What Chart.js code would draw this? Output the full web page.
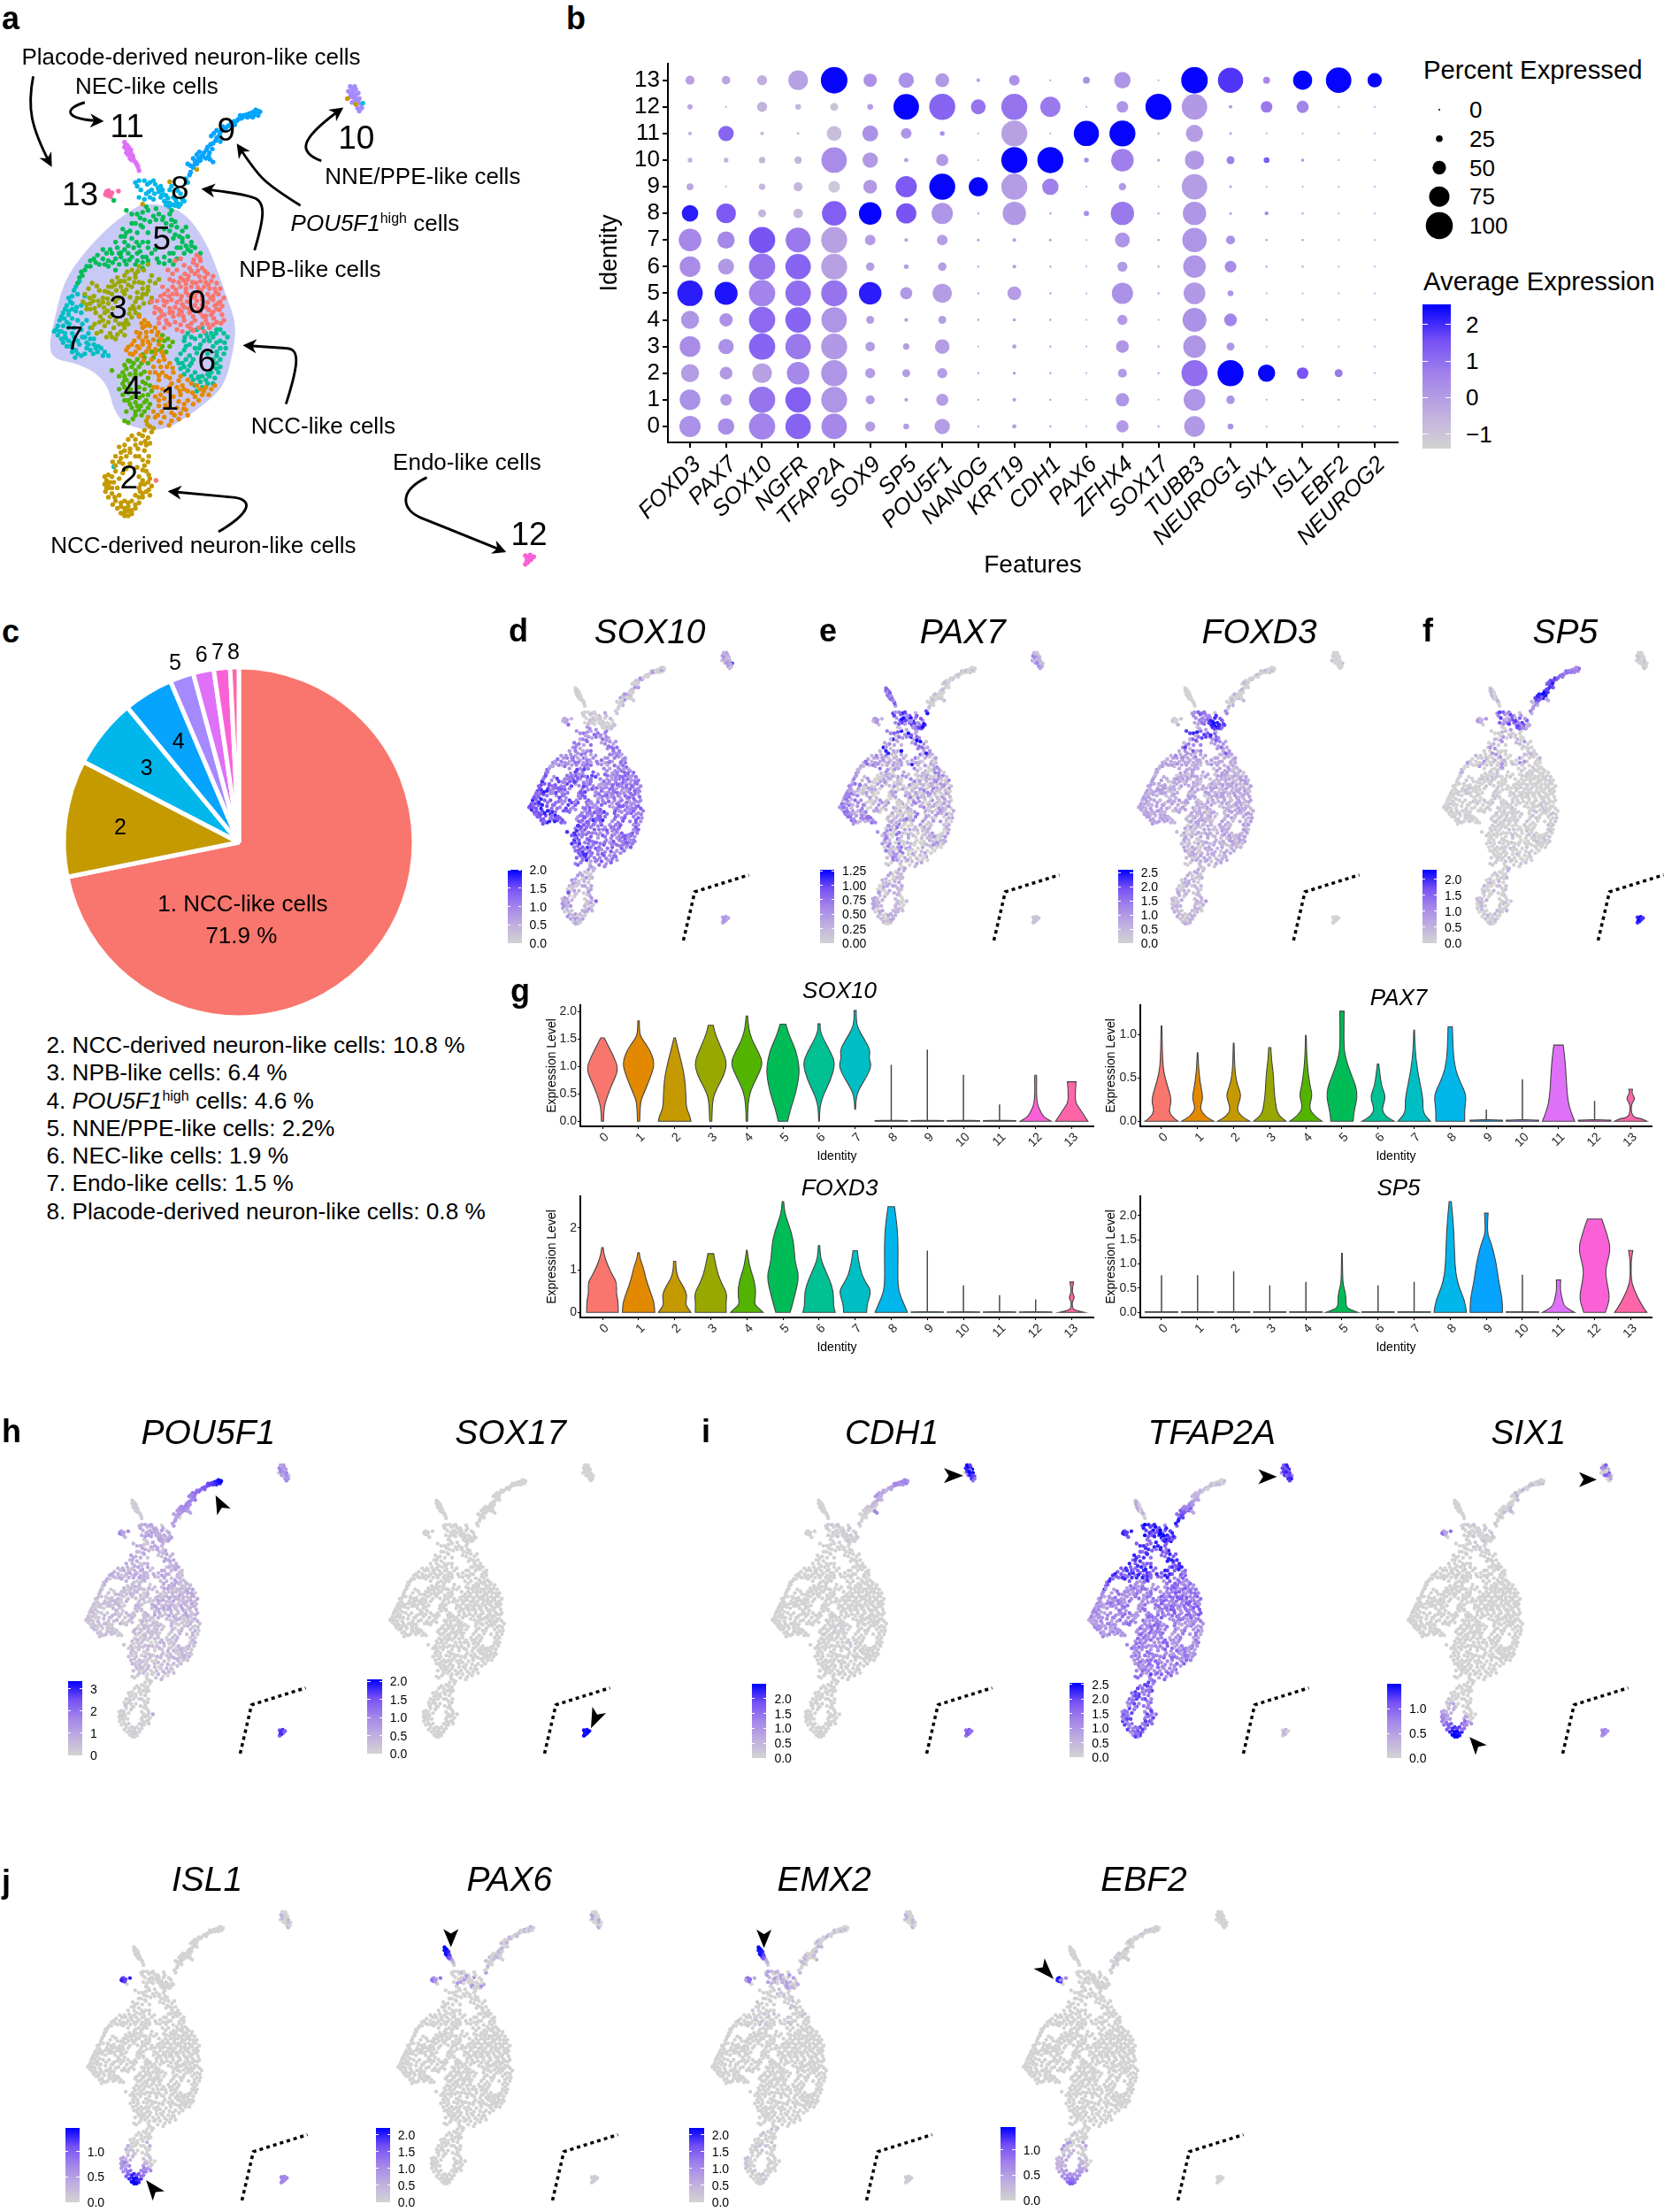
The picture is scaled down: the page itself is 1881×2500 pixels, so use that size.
<!doctype html>
<html><head><meta charset="utf-8">
<script src="https://cdn.jsdelivr.net/npm/chart.js@4"></script>
<style>
body{margin:0;background:#fff}
#page{position:relative;width:1881px;height:2500px;overflow:hidden;font-family:"Liberation Sans",Arial,sans-serif;color:#000}
.t{position:absolute;white-space:nowrap;line-height:1;transform:translateY(-50%)}
.c{transform:translate(-50%,-50%)}
canvas{position:absolute}
svg{position:absolute;left:0;top:0;pointer-events:none}
</style></head><body><div id="page"></div>
<script>
// ---------- data ----------
const clusterColors=['#F8766D','#E38900','#C49A00','#99A800','#53B400','#00BC56','#00C094','#00BFC4','#00B6EB','#06A4FF','#A58AFF','#DF70F8','#FB61D7','#FF66A8'];
const geneNames=['FOXD3','PAX7','SOX10','NGFR','TFAP2A','SOX9','SP5','POU5F1','NANOG','KRT19','CDH1','PAX6','ZFHX4','SOX17','TUBB3','NEUROG1','SIX1','ISL1','EBF2','NEUROG2'];
const identityLabels=['0','1','2','3','4','5','6','7','8','9','10','11','12','13'];
// percent expressed: one row per gene, identities 0..13
const pctExpressed=[
[80,78,68,78,68,96,78,85,62,26,18,14,20,34],
[62,44,48,58,50,87,60,65,74,8,18,58,8,32],
[99,99,74,99,99,99,99,99,30,24,24,14,38,38],
[96,96,85,96,96,96,96,94,36,34,28,10,22,74],
[96,98,98,98,96,98,98,98,92,44,96,56,30,100],
[38,34,38,36,30,85,32,40,85,52,58,60,22,50],
[22,14,30,24,14,46,18,14,76,80,16,40,96,58],
[58,46,38,55,30,72,32,40,80,98,46,18,98,52],
[8,8,8,6,8,8,8,10,8,72,6,5,56,14],
[16,14,12,16,12,52,14,14,88,98,98,98,98,40],
[8,8,8,8,8,8,8,10,8,62,98,5,76,6],
[5,5,6,6,5,5,5,6,20,6,18,95,3,26],
[46,50,34,48,38,80,38,56,88,28,85,98,44,62],
[8,6,8,8,6,8,8,8,8,6,10,8,98,6],
[78,82,98,85,90,82,85,92,88,96,72,65,96,100],
[22,32,98,30,48,22,44,34,10,10,30,10,14,95],
[6,6,65,6,8,6,8,8,14,6,22,6,44,26],
[6,8,44,6,8,6,8,8,8,6,12,6,46,72],
[5,8,30,6,5,6,6,6,6,5,6,5,6,96],
[6,6,6,6,6,6,6,6,6,6,6,6,6,54]];
// average expression (scaled): one row per gene, identities 0..13
const avgExpression=[
[.3,.3,0,.4,.2,2.2,.4,.5,2.2,-.2,-.5,-.4,-.2,-.1],
[.4,.1,.1,.3,.3,2.3,.1,.5,1.4,-1,-.6,1.2,-.8,-.2],
[.6,.9,-.1,1.2,1.1,.6,.9,1.5,-.6,-.6,-.6,-.7,-.5,-.4],
[1.2,1.3,.5,.8,1.2,1,1.2,.8,-.7,-.6,-.6,-.8,-.6,-.1],
[.5,.2,.2,.1,.2,.9,-.1,-.1,1.3,-1.1,.4,-.8,-1,2.5],
[0,0,0,0,0,2.2,0,0,2.5,.1,.1,.3,0,.3],
[0,0,0,0,0,.1,0,0,1.5,1.4,0,.2,2.5,.3],
[0,0,0,0,0,0,0,0,.2,2.5,.1,.4,1.2,.1],
[-.1,-.1,-.1,-.1,-.1,-.1,-.1,-.1,-.1,2.5,-.1,-.1,.9,-.1],
[0,0,0,0,0,0,0,0,.1,0,2.5,-.1,.9,.3],
[0,0,0,0,0,0,0,0,0,.7,2.5,0,.8,0],
[0,0,0,0,0,0,0,0,.4,0,.4,2.5,0,.3],
[.1,.2,.1,.2,.1,.3,.1,.2,.8,.1,.7,2.5,.2,.2],
[0,0,0,0,0,0,0,0,0,0,0,0,2.5,0],
[.1,.2,1,.2,.3,.1,.2,.2,.2,0,.1,0,.1,2.5],
[.3,.2,2.5,.2,.6,.2,.4,.3,0,0,.7,0,0,1.9],
[0,0,2.5,0,0,0,0,0,.6,0,1.4,0,.8,.5],
[0,0,1.5,0,0,0,0,0,0,0,.2,0,.6,2.5],
[0,0,.8,0,0,0,0,0,0,0,0,0,0,2.5],
[0,0,0,0,0,0,0,0,0,0,0,0,0,2.5]];
const percentLegend=[0,25,50,75,100];
const pieLabels=['NCC-like cells','NCC-derived neuron-like cells','NPB-like cells','POU5F1-high cells','NNE/PPE-like cells','NEC-like cells','Endo-like cells','Placode-derived neuron-like cells'];
const pieValues=[71.9,10.8,6.4,4.6,2.2,1.9,1.5,0.8];
const pieColors=['#F8766D','#C49A00','#00B6EB','#06A4FF','#A58AFF','#DF70F8','#FB61D7','#FF66A8'];

// UMAP cells per cluster, flat x,y lists
const umap0=[545,685,555,700,535,705,525,720,560,720,575,735,540,735,500,745,520,750,555,755,585,755,480,755,500,770,530,770,565,770,595,775,465,780,490,790,515,785,545,785,575,790,605,790,445,795,475,805,500,805,530,800,560,805,590,805,610,810,455,820,485,825,510,825,540,820,570,825,600,830,430,825,470,840,495,845,525,840,555,840,585,845,615,845,440,855,460,860,485,865,510,860,540,860,570,860,600,865,455,880,490,885,520,875,550,880,580,880,470,750,440,830,485,700,500,695,465,725,432,1290,
553,692,545,712,568,728,530,728,552,742,512,735,590,742,495,758,515,762,543,760,570,758,600,760,478,770,515,775,548,772,580,775,610,775,455,790,478,790,503,795,532,790,560,795,590,795,620,800,435,808,462,810,490,812,518,810,545,808,575,812,603,815,445,835,470,828,497,832,522,828,550,830,578,832,608,832,428,840,455,845,480,850,508,850,535,850,562,850,592,855,620,860,470,872,500,872,530,868,560,870,590,872,440,868,505,890,535,888,565,890,478,735,510,712,490,725,450,770,595,820,420,810,
537,697,548,727,522,741,567,745,508,752,533,758,577,765,487,778,522,793,557,780,598,785,468,795,540,797,583,800,453,807,505,818,560,818,615,822,478,838,532,833,590,838,447,848,503,838,570,848,612,868,528,882,575,870,463,868];
const umap1=[385,850,400,860,415,875,395,880,420,890,435,900,405,905,385,905,365,925,395,925,415,925,440,925,350,940,375,945,405,945,430,950,455,965,470,975,445,985,430,1000,480,1000,460,1010,440,1020,500,1010,475,1030,450,1045,430,1065,455,1070,480,1065,510,1045,530,1030,540,1065,560,1060,585,1045,595,1035,440,1090,465,1095,490,1095,515,1100,535,1085,430,1120,455,1120,475,1130,500,1110,545,1035,415,1000,500,1060,520,1075,
392,868,410,868,378,892,405,892,430,880,445,910,372,915,395,915,425,912,355,932,385,935,412,935,448,945,360,950,390,955,420,965,440,970,462,985,425,985,450,1000,470,1015,495,1022,435,1040,465,1050,490,1040,520,1050,555,1045,570,1040,578,1060,520,1020,445,1060,470,1080,440,1075,495,1078,510,1085,550,1075,448,1105,475,1108,495,1125,520,1115,445,1135,468,1142,425,1105,425,1040,
402,875,388,895,438,892,410,918,380,930,430,938,368,952,398,968,452,955,478,988,440,1008,468,1040,498,1050,533,1055,458,1088,483,1115,508,1098,565,1050,437,1115,505,1035];
const umap2=[405,1130,415,1145,400,1155,420,1160,410,1175,385,1165,365,1170,390,1190,415,1190,375,1195,400,1210,345,1195,335,1215,320,1225,350,1225,395,1235,410,1240,340,1245,360,1245,380,1255,320,1265,405,1265,300,1275,330,1285,385,1280,415,1285,295,1290,315,1295,400,1300,420,1305,300,1310,385,1310,405,1320,310,1325,330,1330,395,1335,320,1345,345,1345,365,1345,385,1350,335,1360,355,1360,375,1365,345,1375,365,1380,355,1385,300,1300,325,1310,375,1330,330,1240,360,1215,470,488,395,548,545,455,962,265,985,280,
410,1120,408,1140,425,1150,395,1170,402,1185,375,1180,355,1180,382,1205,405,1195,360,1205,412,1225,330,1200,345,1210,312,1240,335,1230,385,1225,400,1250,320,1250,350,1258,395,1262,310,1280,412,1275,290,1280,340,1270,395,1290,410,1295,290,1300,310,1310,390,1300,412,1315,292,1320,395,1325,415,1330,300,1335,318,1335,385,1335,312,1355,335,1350,355,1350,375,1355,325,1365,345,1365,365,1370,335,1378,355,1372,345,1385,295,1310,305,1295,388,1320,345,1260,375,1225];
const umap3=[385,715,410,710,365,725,345,740,325,745,310,755,345,755,375,745,395,760,365,770,410,770,335,770,300,770,275,780,255,760,235,790,260,795,285,800,310,790,345,790,380,785,405,790,420,800,230,810,250,815,275,820,300,815,375,810,385,825,265,840,290,840,375,840,350,860,330,870,300,865,275,865,255,880,280,890,305,895,335,890,320,910,345,880,240,830,430,760,440,750,360,830,
398,725,375,735,352,730,335,755,318,765,355,765,385,758,415,755,395,775,350,778,322,780,290,782,268,768,245,775,248,800,272,808,298,802,328,800,360,798,392,800,415,812,240,818,262,828,288,826,312,828,368,822,398,815,278,850,305,850,365,852,385,845,340,870,315,880,290,875,268,895,295,905,325,898,355,870,345,900,410,780,420,740,310,770,
382,728,358,748,328,758,372,758,300,785,340,782,395,790,258,808,285,812,320,810,380,800,250,830,298,835,372,830,285,860,320,860,345,868,262,870,310,905,358,842];
const umap4=[450,900,465,910,440,915,470,930,450,930,460,945,425,960,400,960,380,965,360,970,345,980,365,985,385,985,340,1000,360,1005,390,1005,410,1015,350,1020,415,1035,400,1045,345,1040,330,1045,340,1060,410,1060,355,1075,375,1080,400,1080,415,1085,365,1095,385,1100,400,1105,375,1115,355,1135,310,995,
455,915,478,918,445,940,420,945,410,975,392,975,370,975,350,990,375,995,400,998,330,1010,345,1010,372,1015,395,1025,360,1030,340,1030,385,1040,355,1055,375,1060,395,1062,420,1050,345,1075,365,1068,390,1090,410,1095,375,1105,350,1105,392,1115,345,1130,
432,940,395,952,355,968,375,1005,345,1020,403,1030,362,1045,385,1068,405,1075,360,1085,380,1090,368,1125];
const umap5=[350,565,380,575,410,565,425,580,470,575,400,590,375,600,485,595,460,600,350,625,335,635,395,610,505,620,520,635,470,620,320,650,345,650,365,640,505,650,480,640,285,670,310,680,345,670,370,665,395,650,530,660,490,665,540,665,270,685,250,700,300,700,335,690,365,690,395,690,420,680,470,680,510,680,240,715,225,730,350,710,380,700,490,695,410,700,215,760,440,705,330,710,275,710,470,700,315,538,
365,575,395,570,440,575,415,595,390,605,475,590,450,590,360,620,380,625,410,625,490,610,515,610,530,650,455,615,485,630,325,665,355,660,385,660,410,665,520,670,500,665,295,680,330,680,355,680,380,680,555,680,260,695,285,695,320,695,345,700,375,710,405,690,435,695,250,715,300,715,320,725,235,725,220,745,480,710,455,690,395,720,430,670,340,615,365,600,505,640,
405,555,432,560,475,565,388,585,432,590,452,583,475,605,345,635,378,650,497,635,515,660,305,670,335,678,388,675,410,650,480,680,312,705,358,698,265,705,395,705,455,708,528,675,228,740,290,710];
const umap6=[520,895,545,885,570,895,600,885,620,895,540,910,565,915,590,905,610,915,630,905,515,930,540,935,590,930,610,935,500,950,525,955,600,955,610,965,505,975,530,975,590,985,520,995,540,1000,500,990,560,1010,580,1010,595,1015,535,1020,555,1025,575,1030,545,1050,
530,885,560,880,585,895,610,885,530,905,555,902,580,915,600,920,622,920,510,915,525,925,555,925,600,945,620,950,510,940,545,948,590,965,515,965,600,975,490,965,510,985,585,1000,530,1010,605,1000,550,1012,570,1020,590,1030,560,1040,540,1035,495,975,
512,905,575,905,598,895,552,935,625,935,575,950,535,965,600,990,525,982,548,1015,510,1005,575,1005,610,985];
const umap7=[220,755,205,780,190,800,235,795,185,820,200,815,175,840,190,845,210,835,165,860,185,865,215,860,240,860,155,885,170,890,190,880,225,885,160,900,180,905,235,905,205,905,250,910,175,920,195,930,220,925,260,925,240,935,280,935,270,945,225,955,300,955,200,945,315,1253,1005,277,
210,770,215,790,195,810,225,820,180,830,200,830,170,850,200,855,225,840,160,875,175,875,205,880,250,880,165,890,180,895,200,895,245,895,170,910,190,915,215,915,260,910,185,930,210,940,240,920,250,940,265,935,290,945,235,950,215,950,285,955,
200,795,212,825,190,835,178,855,150,890,192,870,228,870,182,908,200,920,228,905,245,925,272,930,208,960,258,950];
const umap8=[375,490,400,485,415,490,430,495,445,500,380,500,470,510,420,510,440,515,405,520,415,530,385,530,460,525,480,530,510,540,455,540,470,545,490,545,460,550,495,555,445,530,500,520,520,490,
385,485,408,495,425,485,438,505,450,510,390,510,475,500,428,520,448,525,412,515,425,535,400,535,465,532,487,538,505,535,462,545,478,550,485,552,468,555,500,548,452,522,492,512,515,480];
const umap9=[525,470,520,440,535,450,545,440,535,425,550,425,555,430,570,425,545,415,565,410,580,410,590,435,575,395,590,385,610,380,600,370,585,365,610,355,600,350,625,345,640,330,655,325,660,320,665,310,675,310,685,315,690,305,700,315,705,300,715,298,715,310,
528,462,528,445,540,440,552,432,540,432,558,420,562,420,578,418,552,408,572,402,588,400,582,428,583,388,597,378,605,368,608,362,592,358,615,348,618,340,632,338,648,326,650,335,668,318,672,315,682,308,692,312,698,302,705,308,710,304,720,300,708,295];
const umap10=[970,232,985,240,965,245,978,250,992,250,970,260,985,265,975,275,995,265,1000,280,990,290,995,298,975,238,982,232,972,252,985,255,980,262,992,275,982,275,1002,290];
const umap11=[345,382,352,390,345,395,358,400,350,410,362,410,368,420,360,425,375,435,380,443,385,458,348,388,356,395,350,400,362,402,354,415,366,416,370,428,365,430,377,438,382,448];
const umap12=[966,1358,979,1356,989,1361,971,1366,981,1369,973,1376,966,1381,975,1362,984,1364,970,1372];
const umap13=[295,515,303,520,310,518,298,525,306,528,328,513,300,512,292,522,305,522];
const umapClusters=[umap0,umap1,umap2,umap3,umap4,umap5,umap6,umap7,umap8,umap9,umap10,umap11,umap12,umap13];
const blobOutline=[400,545,480,555,530,590,575,660,600,720,625,790,655,870,645,950,620,1040,560,1090,480,1145,420,1158,345,1140,315,1100,300,1040,265,1000,210,975,150,965,135,930,150,860,175,760,230,680,310,600,370,560];
const panelAShift12=[489,134];
const separatorL=[800,1457,848,1250,1076,1178];

// expression per cell, as fraction of each gene's colour bar, listed per cluster
const SIX1_c2=[0,0,0,0,0,0,0,0,0,0,0,0,0,.1,0,0,0,.3,0,0,.2,0,.3,.2,0,0,.45,.3,.3,0,.55,.3,.4,.6,.7,.5,.7,.85,.8,.6,.9,1,.9,1,.95,1,.5,.4,.6,.2,0,0,0,0,0,0];
const ISL1_c2=[0,0,0,0,0,0,0,0,0,0,.2,0,0,.25,0,0,0,.1,0,0,.2,.1,.3,.2,.1,0,.35,.3,.2,.1,.4,.4,.5,.45,.6,.55,.7,.9,.75,.6,.85,1,.85,1,.9,1,.4,.5,.5,.1,0,0,0,0,0,0];
const EBF2_c2=[0,0,0,0,0,0,.1,0,0,0,.3,0,.35,.4,0,.1,0,.1,.2,0,.2,.1,.15,.3,.2,.1,.2,.25,.2,.1,.2,.3,.35,.3,.35,.4,.4,.45,.4,.45,.5,.55,.5,.6,.6,.7,.2,.2,.3,.1,0,0,0,0,0,0];
const PAX6_c11=[1,1,.95,.9,.95,.8,.6,.7,.3,.2,0];
const POU5F1_c9=[.35,.3,.35,.4,.35,.4,.45,.4,.45,.5,.45,.3,.5,.5,.55,.55,.5,.6,.6,.65,.7,.7,.75,.8,.8,.85,.9,.9,.95,1,.95];
const SP5_c9=[.4,.2,.5,.7,.8,.9,.7,.95,.9,1,.85,.3,.8,.85,.75,.9,.7,.75,.8,.65,.6,.55,.5,.6,.5,.55,.45,.5,.5,.6,.45];
const TFAP2A_c9=[.9,.6,.8,.7,.7,.6,.5,.7,.5,.5,.4,.3,.4,.3,.3,.2,.2,.2,.2,.1,.1,0,.15,.1,0,.2,0,.1,0,.15,0];
const CDH1_c9=[0,0,0,0,.05,.1,0,0,.1,.2,.1,.5,.2,.3,.2,.25,.4,.3,.3,.2,.3,.3,.4,.5,.45,.4,.5,.45,.55,.4,.5];
const FOXD3_c8=[.4,.7,.6,.5,.5,.45,.85,.5,.7,.5,.6,.3,.95,.9,.8,.9,1,.85,.8,.6,.9,.7,.5];
const FOXD3_c5=[.8,.9,.7,.8,.7,.6,.7,.5,.45,.5,.5,.3,.4,.3,.35,.25,.4,.2,.3,.35,.2,.35,.25,.3,.2,.35,.15,.3,.25,.3,.2,.3,.25,.35,.15,.3,.25,.2,.3,.35,.25,.3,.2,.3,.25,.3,.35,.2,.25];
const PAX7_c5=[.5,.7,.95,.4,.3,.6,.9,.5,.3,.2,.95,.1,.4,.3,.6,.2,.9,.1,.3,.5,.15,.3,.5,.1,.2,.35,.6,.2,.3,.15,.35,.4,.1,.2,.3,.6,.2,.35,.15,.3,.25,.1,.3,.2,.35,.1,.25,.3,.15];
const lv_SOX10=[[.45,.6,.35,.5,.65],[.55,.7,.4,.6,.5],[.1,.3,.4,.2,.05],[.6,.7,.5,.8,.45],[.7,.85,.55,.6],[.4,.55,.3,.6,.45],[.55,.7,.45],[.75,.9,.6,.7],[.05,0,.1,0,.15],[0,.05,0,.1,.4],[.2,.3,.4,.15],[0,.05],[.3,.4],[.3,.2]];
const lv_PAX7=[[0,.2,.35,0,.5,.15],[0,.15,.3,0],[.15,0,.3,.2],[0,.3,0,.4,.15],[.15,.4,0,.55],PAX7_c5,[0,.25,.4,.1],[.4,.2,.5,.6],[.8,.5,.95,.4,.7],[0,0,0,.15],[.2,.1,.5,.3],[.6,.4,.7],[.1],[.4,.2]];
const lv_FOXD3=[[.2,.3,.1,.35],[.2,.1,.3,.25],[.15,.05,.25],[.3,.1,.25,.35],[.15,.3,.05],FOXD3_c5,[.25,.15,.35],[.2,.35,.3],FOXD3_c8,[0,0,0,.2],[0],[0],[0],[0,.1]];
const lv_SP5=[[0,0,0,.05],[0,0,.1,0],[0,.1,0,.2,0],[0,0,0,.1],[0,0,.05],[0,0,.2,.05,0,.4],[0,0,.1],[0,0,.05],[.5,.7,.2,.8,.4],SP5_c9,[0,0,.1],[0,.2],[.85,.95],[.2,.4]];
const lv_POU5F1=[[.1,.2,.15,.3],[.1,.2,0,.15],[0,.05,0],[.1,.2,.05,.15],[.1,.15,.05],[.2,.25,.1,.3],[.1,.2,.05],[.05,.15,.1],[.2,.3,.35,.25],POU5F1_c9,[.3,.4,.5],[.05],[.7,.85],[.3,.5]];
const lv_SOX17=[[0],[0],[0],[0],[0],[0],[0],[0],[0],[0],[0],[0],[1,.95],[0]];
const lv_CDH1=[[0],[0,0,.05],[0],[0],[0],[0],[0],[0],[0,.1,0,.05],CDH1_c9,[1,.8,.9,.6],[0],[.6,.7],[0]];
const lv_TFAP2A=[[.5,.7,.4,.6],[.4,.5,.65],[.5,.6,.8],[.45,.6,.35],[.5,.4,.6],[.7,.85,.6,.9],[.4,.55,.3],[.4,.5,.3],[.8,.9,.7,1],TFAP2A_c9,[.7,.9,.8],[0,.3],[0,.2],[.8,.9]];
const lv_SIX1=[[0],[0],SIX1_c2,[0],[0],[0,0,0,.05],[0],[0],[0,.1,0,0],[0,0,.2,0],[0,0,.5,.7,.3],[0],[.4,.5],[.3,.6]];
const lv_ISL1=[[0],[0],ISL1_c2,[0],[0],[0],[0],[0],[0],[0],[0,0,.2],[0],[.5],[.8,.9]];
const lv_PAX6=[[0],[0],[0],[0],[0],[0],[0],[0],[0,0,.4,0],[0,.2,0],[0,0,.3],PAX6_c11,[.05],[.4,.6]];
const lv_EMX2=[[0],[0],[0,0,.1,0],[0],[0],[0,0,0,.1],[0],[0],[0,.2,.35],[0,0,.2],[0,0,.2],PAX6_c11,[.05],[.6,.3]];
const lv_EBF2=[[0],[0],EBF2_c2,[0],[0],[0],[0],[0],[0],[0,0,0,.1],[0],[0],[0],[1,.9,.5]];

// violin profiles: per identity a list of [expression, half width]
const vSpike=top=>[[0,.45],[.012,.45],[.012,.45],[.02,.004],[.02,.004],[top,.004]];
const vio_SOX10=[
[[0,.03],[.25,.04],[.45,.13],[.7,.28],[.95,.45],[1.2,.3],[1.4,.14],[1.52,.05]],
[[0,.03],[.35,.05],[.5,.14],[.8,.33],[1.05,.45],[1.3,.32],[1.5,.1],[1.6,.03],[1.83,.02]],
[[0,.45],[.1,.42],[.25,.32],[.5,.31],[.8,.28],[1.1,.18],[1.3,.1],[1.52,.02]],
[[0,.03],[.4,.05],[.6,.17],[.85,.38],[1.08,.45],[1.35,.28],[1.6,.12],[1.75,.07]],
[[0,.02],[.3,.03],[.55,.09],[.8,.28],[1.05,.45],[1.25,.33],[1.5,.13],[1.7,.05],[1.92,.02]],
[[0,.13],[.2,.2],[.5,.35],[.8,.44],[1,.45],[1.3,.36],[1.55,.18],[1.77,.08]],
[[0,.01],[.25,.02],[.45,.1],[.75,.32],[1.05,.45],[1.25,.33],[1.5,.12],[1.65,.03],[1.78,.03]],
[[.22,.01],[.45,.03],[.6,.12],[.85,.35],[1.02,.45],[1.15,.38],[1.3,.42],[1.5,.25],[1.7,.07],[1.85,.03],[2.02,.03]],
vSpike(1.02),vSpike(1.3),vSpike(.84),vSpike(.3),
[[0,.43],[.05,.3],[.1,.2],[.2,.12],[.3,.05],[.5,.02],[.8,.03],[.84,.02]],
[[0,.45],[.1,.35],[.25,.2],[.35,.1],[.55,.1],[.72,.12]]];
const vio_FOXD3=[
[[0,.44],[.3,.43],[.45,.38],[.7,.4],[.85,.3],[1.1,.15],[1.35,.05],[1.53,.02]],
[[0,.45],[.25,.43],[.5,.32],[.8,.2],[1.05,.14],[1.25,.05],[1.41,.02]],
[[0,.45],[.12,.35],[.22,.3],[.4,.35],[.6,.25],[.8,.1],[1,.04],[1.21,.03]],
[[0,.43],[.2,.42],[.45,.45],[.65,.32],[.9,.2],[1.2,.12],[1.39,.08]],
[[0,.45],[.1,.33],[.2,.2],[.35,.24],[.6,.24],[.85,.17],[1.1,.07],[1.47,.01]],
[[0,.2],[.4,.33],[.85,.45],[1.2,.33],[1.7,.3],[2.1,.15],[2.35,.05],[2.62,.02]],
[[0,.45],[.15,.4],[.5,.4],[.8,.28],[1.1,.12],[1.3,.04],[1.58,.02]],
[[0,.32],[.2,.33],[.5,.45],[.7,.3],[.9,.18],[1.2,.1],[1.46,.06]],
[[0,.45],[.2,.35],[.5,.2],[.85,.18],[1.5,.19],[2,.17],[2.5,.09]],
vSpike(1.45),vSpike(.63),vSpike(.4),vSpike(.3),
[[0,.35],[.05,.1],[.1,.02],[.25,.01],[.35,.08],[.4,.05],[.5,.01],[.72,.05]]];
const vio_PAX7=[
[[0,.46],[.05,.3],[.12,.2],[.2,.26],[.28,.26],[.4,.17],[.55,.07],[.7,.03],[1.1,.01]],
[[0,.45],[.06,.2],[.15,.06],[.25,.14],[.32,.13],[.45,.07],[.6,.03],[.79,.01]],
[[0,.45],[.06,.2],[.14,.08],[.28,.2],[.35,.17],[.45,.08],[.6,.03],[.9,.01]],
[[0,.45],[.08,.22],[.2,.16],[.35,.12],[.55,.1],[.7,.05],[.85,.03]],
[[0,.45],[.06,.25],[.15,.08],[.3,.18],[.4,.12],[.6,.05],[.8,.02],[.99,.01]],
[[0,.31],[.1,.33],[.33,.45],[.55,.25],[.7,.12],[.85,.05],[1.27,.06]],
[[0,.45],[.06,.2],[.14,.1],[.28,.22],[.4,.1],[.55,.05],[.66,.02]],
[[0,.45],[.1,.24],[.25,.25],[.4,.18],[.6,.09],[.8,.03],[1.05,.01]],
[[0,.4],[.15,.4],[.3,.45],[.45,.28],[.6,.14],[.8,.08],[1.09,.06]],
vSpike(.13),vSpike(.48),
[[0,.45],[.1,.35],[.25,.25],[.6,.2],[.75,.17],[.88,.13]],
vSpike(.23),
[[0,.45],[.03,.3],[.05,.03],[.2,.01],[.26,.13],[.32,.03],[.37,.05]]];
const vio_SP5=[
vSpike(.76),vSpike(.76),vSpike(.84),vSpike(.55),vSpike(.62),
[[0,.45],[.04,.3],[.1,.12],[.25,.11],[.4,.1],[.55,.04],[.7,.02],[1.22,.01]],
vSpike(.55),vSpike(.62),
[[0,.45],[.25,.4],[.5,.25],[.8,.15],[1.2,.12],[1.7,.1],[2.29,.03]],
[[0,.45],[.3,.44],[.6,.35],[1,.28],[1.4,.15],[1.6,.04],[1.8,.03],[2.05,.05]],
vSpike(.77),
[[0,.45],[.06,.3],[.15,.14],[.3,.1],[.45,.05],[.67,.06]],
[[0,.3],[.3,.43],[.65,.33],[.9,.3],[1.3,.45],[1.6,.35],[1.93,.2]],
[[0,.45],[.1,.35],[.3,.2],[.6,.02],[.9,.01],[1.1,.02],[1.28,.06]]];

// ---------- helpers ----------
const page=document.getElementById('page');
const FONT='"Liberation Sans",Arial,sans-serif';
Chart.defaults.font.family=FONT;
Chart.defaults.color='#000';
Chart.defaults.layout.autoPadding=false;
const rampStops=[[0,[211,211,211]],[.25,[192,174,223]],[.5,[163,133,234]],[.75,[119,80,245]],[1,[0,0,255]]];
function ramp(t){t=Math.max(0,Math.min(1,t));for(let i=1;i<rampStops.length;i++){if(t<=rampStops[i][0]){const[a,c]=rampStops[i-1],[b,d]=rampStops[i],f=(t-a)/(b-a);return`rgb(${c.map((v,k)=>Math.round(v+(d[k]-v)*f)).join(',')})`}}return'rgb(0,0,255)'}
const rampCss='linear-gradient(to top,'+rampStops.map(s=>`rgb(${s[1].join(',')}) ${s[0]*100}%`).join(',')+')';
function txt(s,x,y,size,o={}){const d=document.createElement('div');d.className='t'+(o.c?' c':'');d.style.left=x+'px';d.style.top=y+'px';d.style.fontSize=size+'px';if(o.b)d.style.fontWeight='bold';if(o.i)d.style.fontStyle='italic';d.innerHTML=s;page.appendChild(d);return d}
function mount(x0,y0,x1,y1,g={}){const l=g.l||0,r=g.r||0,t=g.t||0,b=g.b||0;const c=document.createElement('canvas');c.width=x1-x0+l+r;c.height=y1-y0+t+b;c.style.left=(x0-l)+'px';c.style.top=(y0-t)+'px';page.appendChild(c);return c}
const closedShape={id:'closedShape',beforeDatasetsDraw(chart){const ctx=chart.ctx;chart.getSortedVisibleDatasetMetas().forEach(m=>{const ds=chart.data.datasets[m.index];if(!ds.closedShape)return;const p=m.data,n=p.length;ctx.save();ctx.beginPath();ctx.moveTo((p[n-1].x+p[0].x)/2,(p[n-1].y+p[0].y)/2);for(let i=0;i<n;i++){const q=p[(i+1)%n];ctx.quadraticCurveTo(p[i].x,p[i].y,(p[i].x+q.x)/2,(p[i].y+q.y)/2)}ctx.closePath();ctx.fillStyle=ds.backgroundColor;ctx.fill();if(ds.outline){ctx.strokeStyle=ds.outline;ctx.lineWidth=ds.outlineWidth||1;ctx.stroke()}ctx.restore()})}};
const base={animation:false,responsive:false,events:[],plugins:{legend:{display:false},tooltip:{enabled:false}}};
const zeroPad=s=>{s.paddingLeft=s.paddingRight=s.paddingTop=s.paddingBottom=0};
const axisCommon={border:{display:true,color:'#000',width:2},grid:{display:true,drawOnChartArea:false,drawTicks:true,tickLength:6,color:'#000',lineWidth:2}};
const pairs=a=>{const o=[];for(let i=0;i<a.length;i+=2)o.push({x:a[i],y:a[i+1]});return o};

// ---------- panel a ----------
{
 const ds=[{closedShape:true,backgroundColor:'#C9C9F6',data:pairs(blobOutline),pointRadius:0,showLine:false}];
 umapClusters.forEach((c,k)=>{let pts=pairs(c);if(k===12)pts=pts.map(p=>({x:p.x+panelAShift12[0],y:p.y+panelAShift12[1]}));ds.push({data:pts,backgroundColor:clusterColors[k],pointRadius:2.7,pointBorderWidth:0,showLine:false})});
 new Chart(mount(0,0,640,660),{type:'scatter',data:{datasets:ds},plugins:[closedShape],options:{...base,layout:{padding:0},scales:{x:{display:false,min:0,max:1568},y:{display:false,min:0,max:1568,reverse:true}}}});
}
const ax=(z)=>z/2.45, ay=(z)=>z/2.376;
[['0',545,810],['1',470,1070],['2',357,1280],['3',327,825],['4',367,1040],['5',448,640],['6',573,968],['7',205,908],['8',498,503],['9',627,347],['10',987,368],['11',352,338],['12',1465,1432],['13',222,520]].forEach(a=>txt(a[0],ax(a[1]),ay(a[2]),37,{c:1}));
[['Placode-derived neuron-like cells',60,152],['NEC-like cells',208,230],['NNE/PPE-like cells',900,472],['<i>POU5F1</i><span style="font-size:16px;vertical-align:9px">high</span> cells',805,598],['NPB-like cells',662,722],['NCC-like cells',695,1142],['Endo-like cells',1088,1240],['NCC-derived neuron-like cells',140,1463]].forEach(a=>txt(a[0],ax(a[1]),ay(a[2]),26));
const arrowPaths=['M92,205 C75,290 85,340 140,442','M235,275 C180,290 170,320 280,325','M890,432 C830,410 820,380 945,293','M832,552 C730,490 720,480 660,392','M705,672 C730,590 740,540 700,530 C660,518 620,515 565,508','M792,1085 C830,970 830,935 790,935 L680,928','M605,1428 C690,1380 710,1340 640,1335 L472,1320','M1182,1282 C1100,1320 1115,1370 1165,1390 L1395,1480'];

// ---------- panel b ----------
{
 const pts=[],cols=[];
 geneNames.forEach((g,i)=>identityLabels.forEach((id,j)=>{pts.push({x:i,y:j,r:Math.max(1,pctExpressed[i][j]*.15)});cols.push(ramp((avgExpression[i][j]+1.39)/3.94))}));
 new Chart(mount(755,72,1580,500,{l:82,b:156,r:20,t:6}),{type:'bubble',data:{datasets:[{data:pts,backgroundColor:cols,borderWidth:0,clip:false}]},options:{...base,layout:{padding:{right:20,top:6}},scales:{
  x:{...axisCommon,type:'linear',min:-.614,max:19.64,afterFit:s=>{s.height=156;zeroPad(s)},title:{display:true,text:'Features',font:{size:28},padding:0},ticks:{stepSize:1,includeBounds:false,autoSkip:false,minRotation:45,maxRotation:45,padding:4,labelOffset:8,font:{size:26,style:'italic'},callback:v=>geneNames[v]}},
  y:{...axisCommon,type:'linear',min:-.6,max:13.62,afterFit:s=>{s.width=82;zeroPad(s)},title:{display:true,text:'Identity',font:{size:27},padding:0},ticks:{stepSize:1,includeBounds:false,autoSkip:false,padding:3,font:{size:26},callback:v=>identityLabels[v]}}}}});
 txt('Percent Expressed',1609,78.7,29.3);
 txt('Average Expression',1609,317.8,29.3);
 new Chart(mount(1600,100,1654,280),{type:'bubble',data:{datasets:[{data:percentLegend.map(p=>({x:.5,y:p,r:Math.max(1,p*.153)})),backgroundColor:'#000',borderWidth:0}]},options:{...base,scales:{x:{display:false,min:0,max:1},y:{display:false,reverse:true,min:-18.3,max:119.1}}}});
 percentLegend.forEach(p=>txt(String(p),1661,124+1.31*p,26));
}
function colorbar(x0,x1,y0,y1,min,max,ticks,size,labelX){
 const d=document.createElement('div');d.style.cssText=`position:absolute;left:${x0}px;top:${y0}px;width:${x1-x0}px;height:${y1-y0}px;background:${rampCss}`;page.appendChild(d);
 ticks.forEach(t=>{const v=parseFloat(t.replace('−','-'));const y=y1-(v-min)/(max-min)*(y1-y0);const w=(x1-x0)*.2;
  if(v>min+1e-6)[x0,x1-w].forEach(X=>{const m=document.createElement('div');m.style.cssText=`position:absolute;left:${X}px;top:${y-.5}px;width:${w}px;height:1px;background:#fff`;page.appendChild(m)});
  txt(t,labelX,Math.min(y,y1+2),size)});
}
colorbar(1608,1640,344,507,-1.39,2.55,['−1','0','1','2'],26,1657);

// ---------- panel c ----------
new Chart(mount(60,742,480,1162),{type:'pie',data:{labels:pieLabels,datasets:[{data:pieValues,backgroundColor:pieColors,borderColor:'#fff',borderWidth:5}]},options:{...base,radius:198}});
txt('1. NCC-like cells',274.4,1020.7,26,{c:1});txt('71.9 %',272.9,1056.5,26,{c:1});
[['2',135.9,933.9],['3',165.7,867.3],['4',201.7,837],['5',197.9,748],['6',227.7,738.8],['7',246,736],['8',264,736]].forEach(a=>txt(a[0],a[1],a[2],25,{c:1}));
['2. NCC-derived neuron-like cells: 10.8 %','3. NPB-like cells: 6.4 %','4. <i>POU5F1</i><span style="font-size:16px;vertical-align:9px">high</span> cells: 4.6 %','5. NNE/PPE-like cells: 2.2%','6. NEC-like cells: 1.9 %','7. Endo-like cells: 1.5 %','8. Placode-derived neuron-like cells: 0.8 %'].forEach((s,i)=>txt(s,52.4,[1180.5,1211.7,1243.8,1274.6,1305.8,1337,1368.7][i],26.2));

// ---------- feature panels ----------
const featurePanels=[
 {g:'SOX10',lv:lv_SOX10,a:[597.9,737.5],bar:[573.5,589.5,983,1066],max:2.0,ticks:['0.0','0.5','1.0','1.5','2.0'],tx:734.7,ty:713},
 {g:'PAX7',lv:lv_PAX7,a:[949.3,737.5],bar:[926.6,943,983,1066],max:1.27,ticks:['0.00','0.25','0.50','0.75','1.00','1.25'],tx:1088.2,ty:713},
 {g:'FOXD3',lv:lv_FOXD3,a:[1287.5,737.5],bar:[1263.8,1280.7,983,1066],max:2.6,ticks:['0.0','0.5','1.0','1.5','2.0','2.5'],tx:1423.6,ty:713},
 {g:'SP5',lv:lv_SP5,a:[1632.3,737.5],bar:[1607.9,1623.9,983,1066],max:2.3,ticks:['0.0','0.5','1.0','1.5','2.0'],tx:1769.3,ty:713},
 {g:'POU5F1',lv:lv_POU5F1,a:[97,1655.7],bar:[77,93,1900,1984],max:3.35,ticks:['0','1','2','3'],tx:235.3,ty:1618},
 {g:'SOX17',lv:lv_SOX17,a:[441.2,1655.7],bar:[415.4,431.8,1898,1982],max:2.05,ticks:['0.0','0.5','1.0','1.5','2.0'],tx:577,ty:1618},
 {g:'CDH1',lv:lv_CDH1,a:[873.4,1655.7],bar:[850.2,866.4,1903,1987],max:2.5,ticks:['0.0','0.5','1.0','1.5','2.0'],tx:1008,ty:1618},
 {g:'TFAP2A',lv:lv_TFAP2A,a:[1230.8,1655.7],bar:[1209,1225.2,1902,1986],max:2.55,ticks:['0.0','0.5','1.0','1.5','2.0','2.5'],tx:1369.8,ty:1618},
 {g:'SIX1',lv:lv_SIX1,a:[1592.4,1655.7],bar:[1567.8,1584,1903,1987],max:1.5,ticks:['0.0','0.5','1.0'],tx:1727.9,ty:1618},
 {g:'ISL1',lv:lv_ISL1,a:[99.1,2160.7],bar:[73.6,89.7,2405,2489],max:1.47,ticks:['0.0','0.5','1.0'],tx:234,ty:2123},
 {g:'PAX6',lv:lv_PAX6,a:[450.2,2160.7],bar:[424.7,440.8,2405,2489],max:2.2,ticks:['0.0','0.5','1.0','1.5','2.0'],tx:575.8,ty:2123},
 {g:'EMX2',lv:lv_EMX2,a:[805.1,2160.7],bar:[778.7,795.7,2405,2489],max:2.2,ticks:['0.0','0.5','1.0','1.5','2.0'],tx:931.6,ty:2123},
 {g:'EBF2',lv:lv_EBF2,a:[1157.2,2160.7],bar:[1130.7,1147.7,2404,2487],max:1.45,ticks:['0.0','0.5','1.0'],tx:1293,ty:2123}];
const SX=.2685,SY=.2655,ZX=[60,1100],ZY=[150,1480];
featurePanels.forEach(p=>{
 const pts=[],cols=[];
 umapClusters.forEach((c,k)=>{const l=p.lv[k];pairs(c).forEach((q,i)=>{pts.push(q);cols.push(ramp(l[i%l.length]))})});
 const x0=p.a[0]+(ZX[0]-150)*SX,x1=p.a[0]+(ZX[1]-150)*SX,y0=p.a[1]+(ZY[0]-230)*SY,y1=p.a[1]+(ZY[1]-230)*SY;
 const c=mount(Math.round(x0),Math.round(y0),Math.round(x1),Math.round(y1));
 new Chart(c,{type:'scatter',data:{datasets:[
  {data:pts,backgroundColor:cols,pointBackgroundColor:cols,pointRadius:2.2,pointBorderWidth:0,showLine:false},
  {data:pairs(separatorL),showLine:true,borderColor:'#000',borderWidth:3.5,borderDash:[4,4],pointRadius:0}]},
  options:{...base,scales:{x:{display:false,min:ZX[0],max:ZX[1]},y:{display:false,min:ZY[0],max:ZY[1],reverse:true}}}});
 colorbar(p.bar[0],p.bar[1],p.bar[2],p.bar[3],0,p.max,p.ticks,14,p.bar[1]+9);
 txt(p.g,p.tx,p.ty,39,{c:1,i:1});
});

// ---------- panel g violins ----------
const violinPanels=[
 {g:'SOX10',vio:vio_SOX10,box:[656,1136,1236,1273],xr:[-.613,13.6],y:[-.092,2.118],step:.5,dec:1,tx:949,ty:1119.3,gl:40},
 {g:'FOXD3',vio:vio_FOXD3,box:[656,1352,1236,1489],xr:[-.613,13.6],y:[-.119,2.747],step:1,dec:0,tx:949,ty:1341.7,gl:40},
 {g:'PAX7',vio:vio_PAX7,box:[1289,1136,1867,1273],xr:[-.588,13.58],y:[-.058,1.34],step:.5,dec:1,tx:1581,ty:1126.7,gl:41},
 {g:'SP5',vio:vio_SP5,box:[1289,1352,1867,1489],xr:[-.588,13.58],y:[-.104,2.4],step:.5,dec:1,tx:1581,ty:1341.7,gl:41}];
violinPanels.forEach(v=>{
 const ds=v.vio.map((prof,i)=>{const R=prof.map(k=>({x:i+k[1],y:k[0]}));const L=prof.map(k=>({x:i-k[1],y:k[0]})).reverse();
  const pts=[R[0],...R,R[R.length-1],L[0],...L,L[L.length-1]];
  return{closedShape:true,backgroundColor:clusterColors[i],outline:'#444',outlineWidth:1.1,data:pts,pointRadius:0,showLine:false}});
 const b=v.box;
 new Chart(mount(b[0],b[1],b[2],b[3],{l:v.gl,b:43,r:8,t:4}),{type:'scatter',data:{datasets:ds},plugins:[closedShape],options:{...base,layout:{padding:{right:8,top:4}},scales:{
  x:{...axisCommon,type:'linear',min:v.xr[0],max:v.xr[1],afterFit:s=>{s.height=43;zeroPad(s)},title:{display:true,text:'Identity',font:{size:14},padding:0},grid:{...axisCommon.grid,tickLength:3,lineWidth:1},ticks:{stepSize:1,includeBounds:false,autoSkip:false,minRotation:45,maxRotation:45,padding:1,labelOffset:5,font:{size:14},color:'#222',callback:x=>identityLabels[x]}},
  y:{...axisCommon,type:'linear',min:v.y[0],max:v.y[1],afterFit:s=>{s.width=v.gl;zeroPad(s)},title:{display:true,text:'Expression Level',font:{size:14},padding:0},grid:{...axisCommon.grid,tickLength:3,lineWidth:1},ticks:{stepSize:v.step,includeBounds:false,padding:1,font:{size:14},color:'#222',callback:x=>x.toFixed(v.dec)}}}}});
 txt(v.g,v.tx,v.ty,26,{c:1,i:1});
});

// ---------- panel letters ----------
[['a',2,21],['b',640,21],['c',2,714],['d',575,713],['e',926,713],['f',1608,713],['g',577,1120],['h',2,1618],['i',793,1618],['j',2,2127]].forEach(a=>txt(a[0],a[1],a[2],36,{b:1}));

// ---------- arrows ----------
const headSpec=[[1089,1667.7,1071.4,1667.7],[1443.5,1669,1426.7,1669],[1805,1672.3,1789,1672.3],[1661.2,1963.3,1671.7,1975],[243.7,1690,251.2,1705],[668,1953.3,675.5,1936.7],[165.2,2464,176.5,2478.3],[509.7,2200.7,509.7,2184.3],[863.6,2201.7,863.6,2185],[1191.1,2236.7,1177.9,2222.7]];
function head(a,b,c,d){const dx=c-a,dy=d-b,L=Math.hypot(dx,dy)*1.25,ux=dx/Math.hypot(dx,dy),uy=dy/Math.hypot(dx,dy),nx=-uy,ny=ux,W=8.5,ex=a+ux*L,ey=b+uy*L;return`${a},${b} ${ex+nx*W},${ey+ny*W} ${a+ux*L*.75},${b+uy*L*.75} ${ex-nx*W},${ey-ny*W}`}
const ns='http://www.w3.org/2000/svg';
const svg=document.createElementNS(ns,'svg');svg.setAttribute('width',1881);svg.setAttribute('height',2500);
svg.innerHTML=`<defs><marker id="ah" viewBox="0 0 10 10" refX="8" refY="5" markerWidth="38" markerHeight="38" orient="auto" markerUnits="userSpaceOnUse"><path d="M0,0 L10,5 L0,10 L3,5 z" fill="#000"/></marker></defs><g transform="scale(.40816,.42088)" fill="none" stroke="#000" stroke-width="7">`+arrowPaths.map(d=>`<path d="${d}" marker-end="url(#ah)"/>`).join('')+`</g>`+headSpec.map(h=>`<polygon points="${head(...h)}" fill="#000"/>`).join('');
page.appendChild(svg);
</script></body></html>
